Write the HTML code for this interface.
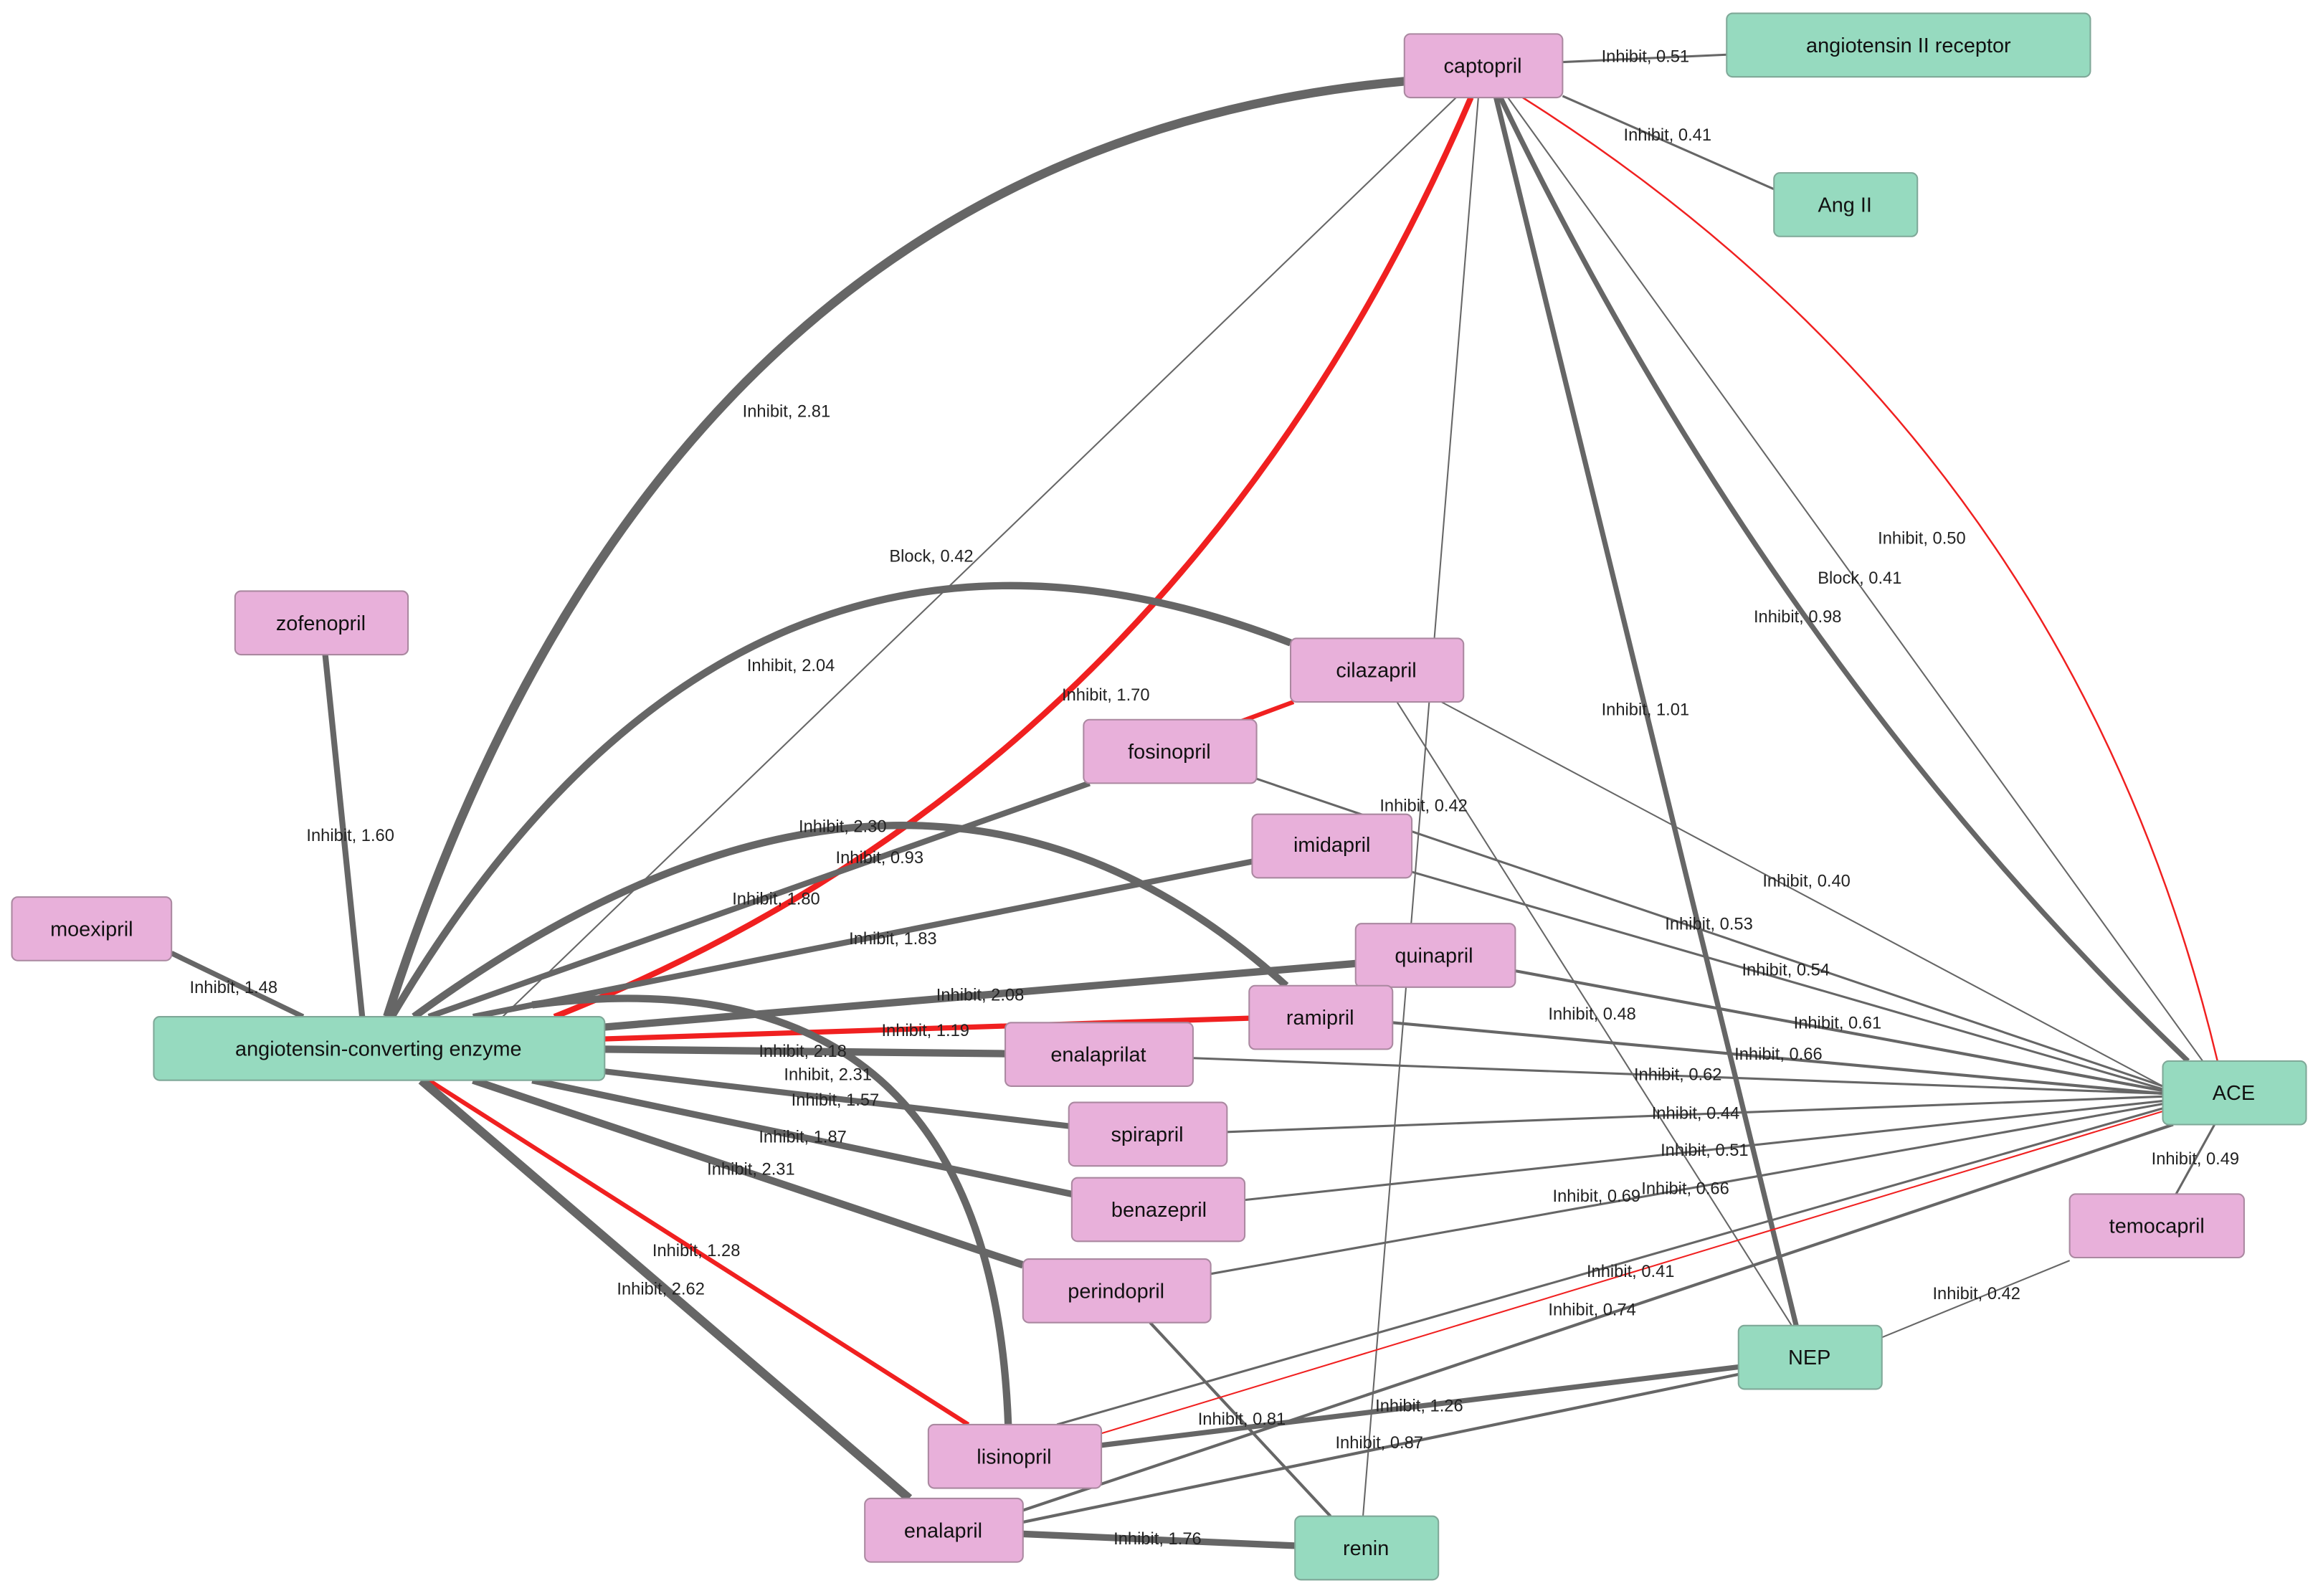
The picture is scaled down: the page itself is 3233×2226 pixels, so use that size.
<!DOCTYPE html>
<html><head><meta charset="utf-8"><style>
html,body{margin:0;padding:0;background:#fff}
svg{display:block}
text{font-family:"Liberation Sans",sans-serif}
.l{font-size:11.5px;fill:#222;text-anchor:middle;dominant-baseline:middle}
.n{font-size:14px;fill:#111;text-anchor:middle;dominant-baseline:central}
.p{fill:#e8b0da;stroke:#aa88a0;stroke-width:1}
.g{fill:#96dabf;stroke:#7fa898;stroke-width:1}
.e{fill:none;stroke:#666}
.r{fill:none;stroke:#f02020}
</style></head><body>
<svg width="3233" height="2226" viewBox="0 0 1568 1080" preserveAspectRatio="none" xmlns="http://www.w3.org/2000/svg">
<rect width="1568" height="1080" fill="#fff"/>
<!-- edges -->
<path class="e" stroke-width="6" d="M950 55 Q450 100 262 688"/>
<path class="e" stroke-width="1.5" d="M1057 42 L1168 37"/>
<path class="e" stroke-width="1.5" d="M1057 65 L1200 128"/>
<path class="r" stroke-width="1.2" d="M1030 66 Q1400 300 1500 718"/>
<path class="e" stroke-width="1" d="M1020 66 L1490 718"/>
<path class="e" stroke-width="3.5" d="M1015 66 Q1200 450 1480 718"/>
<path class="e" stroke-width="3.5" d="M1012 66 L1215 897"/>
<path class="e" stroke-width="1" d="M1000 66 L922 1026"/>
<path class="e" stroke-width="1" d="M985 66 L340 688"/>
<path class="r" stroke-width="4" d="M995 66 Q800 520 375 688"/>
<path class="r" stroke-width="3" d="M875 475 L840 488"/>
<path class="e" stroke-width="5" d="M873 435 Q500 290 265 688"/>
<path class="e" stroke-width="1" d="M975 475 L1463 735"/>
<path class="e" stroke-width="1" d="M945 475 L1212 897"/>
<path class="e" stroke-width="4" d="M737 530 L290 688"/>
<path class="e" stroke-width="1.5" d="M850 527 L1463 735"/>
<path class="e" stroke-width="4" d="M847 583 L320 688"/>
<path class="e" stroke-width="1.5" d="M955 590 L1463 737"/>
<path class="e" stroke-width="5" d="M870 667 Q620 440 280 688"/>
<path class="e" stroke-width="5" d="M917 652 L409 695"/>
<path class="e" stroke-width="2" d="M1025 657 L1463 738"/>
<path class="e" stroke-width="2" d="M942 692 L1463 740"/>
<path class="r" stroke-width="3.5" d="M409 703 L845 689"/>
<path class="e" stroke-width="5" d="M409 710 L680 713"/>
<path class="e" stroke-width="1.5" d="M807 716 L1463 740"/>
<path class="e" stroke-width="5" d="M360 680 Q670 640 682 964"/>
<path class="e" stroke-width="4" d="M409 725 L723 762"/>
<path class="e" stroke-width="1.5" d="M830 766 L1463 742"/>
<path class="e" stroke-width="4.5" d="M360 731 L725 808"/>
<path class="e" stroke-width="1.5" d="M842 812 L1463 745"/>
<path class="e" stroke-width="5" d="M320 731 L692 856"/>
<path class="e" stroke-width="1.5" d="M819 862 L1463 747"/>
<path class="e" stroke-width="2" d="M778 895 L900 1026"/>
<path class="r" stroke-width="3" d="M290 731 L655 964"/>
<path class="e" stroke-width="6" d="M285 731 L615 1014"/>
<path class="r" stroke-width="1" d="M745 970 L1463 752"/>
<path class="e" stroke-width="1.5" d="M715 964 L1463 750"/>
<path class="e" stroke-width="2" d="M692 1022 L1470 761"/>
<path class="e" stroke-width="3.5" d="M745 978 L1176 925"/>
<path class="e" stroke-width="2" d="M692 1030 L1176 930"/>
<path class="e" stroke-width="4.5" d="M692 1038 L876 1046"/>
<path class="e" stroke-width="1.5" d="M1498 761 L1472 808"/>
<path class="e" stroke-width="1" d="M1400 853 L1273 905"/>
<path class="e" stroke-width="4" d="M220 443 L245 688"/>
<path class="e" stroke-width="3.5" d="M116 645 L205 688"/>
<!-- labels -->
<g class="l">
<text x="532" y="279">Inhibit, 2.81</text>
<text x="1113" y="39">Inhibit, 0.51</text>
<text x="1128" y="92">Inhibit, 0.41</text>
<text x="1300" y="365">Inhibit, 0.50</text>
<text x="1258" y="392">Block, 0.41</text>
<text x="1216" y="418">Inhibit, 0.98</text>
<text x="1113" y="481">Inhibit, 1.01</text>
<text x="630" y="377">Block, 0.42</text>
<text x="535" y="451">Inhibit, 2.04</text>
<text x="748" y="471">Inhibit, 1.70</text>
<text x="963" y="546">Inhibit, 0.42</text>
<text x="1222" y="597">Inhibit, 0.40</text>
<text x="570" y="560">Inhibit, 2.30</text>
<text x="595" y="581">Inhibit, 0.93</text>
<text x="525" y="609">Inhibit, 1.80</text>
<text x="604" y="636">Inhibit, 1.83</text>
<text x="1156" y="626">Inhibit, 0.53</text>
<text x="1208" y="657">Inhibit, 0.54</text>
<text x="663" y="674">Inhibit, 2.08</text>
<text x="1077" y="687">Inhibit, 0.48</text>
<text x="1243" y="693">Inhibit, 0.61</text>
<text x="626" y="698">Inhibit, 1.19</text>
<text x="543" y="712">Inhibit, 2.18</text>
<text x="1203" y="714">Inhibit, 0.66</text>
<text x="1135" y="728">Inhibit, 0.62</text>
<text x="560" y="728">Inhibit, 2.31</text>
<text x="565" y="745">Inhibit, 1.57</text>
<text x="1147" y="754">Inhibit, 0.44</text>
<text x="543" y="770">Inhibit, 1.87</text>
<text x="1153" y="779">Inhibit, 0.51</text>
<text x="1485" y="785">Inhibit, 0.49</text>
<text x="508" y="792">Inhibit, 2.31</text>
<text x="1080" y="810">Inhibit, 0.69</text>
<text x="1140" y="805">Inhibit, 0.66</text>
<text x="471" y="847">Inhibit, 1.28</text>
<text x="1103" y="861">Inhibit, 0.41</text>
<text x="447" y="873">Inhibit, 2.62</text>
<text x="1337" y="876">Inhibit, 0.42</text>
<text x="1077" y="887">Inhibit, 0.74</text>
<text x="237" y="566">Inhibit, 1.60</text>
<text x="158" y="669">Inhibit, 1.48</text>
<text x="960" y="952">Inhibit, 1.26</text>
<text x="840" y="961">Inhibit, 0.81</text>
<text x="933" y="977">Inhibit, 0.87</text>
<text x="783" y="1042">Inhibit, 1.76</text>
</g>
<!-- nodes -->
<rect class="p" x="950" y="23" width="107" height="43" rx="4"/><text class="n" x="1003" y="45">captopril</text>
<rect class="g" x="1168" y="9" width="246" height="43" rx="4"/><text class="n" x="1291" y="31">angiotensin II receptor</text>
<rect class="g" x="1200" y="117" width="97" height="43" rx="4"/><text class="n" x="1248" y="139">Ang II</text>
<rect class="p" x="159" y="400" width="117" height="43" rx="4"/><text class="n" x="217" y="422">zofenopril</text>
<rect class="p" x="873" y="432" width="117" height="43" rx="4"/><text class="n" x="931" y="454">cilazapril</text>
<rect class="p" x="733" y="487" width="117" height="43" rx="4"/><text class="n" x="791" y="509">fosinopril</text>
<rect class="p" x="847" y="551" width="108" height="43" rx="4"/><text class="n" x="901" y="572">imidapril</text>
<rect class="p" x="8" y="607" width="108" height="43" rx="4"/><text class="n" x="62" y="629">moexipril</text>
<rect class="p" x="917" y="625" width="108" height="43" rx="4"/><text class="n" x="970" y="647">quinapril</text>
<rect class="p" x="845" y="667" width="97" height="43" rx="4"/><text class="n" x="893" y="689">ramipril</text>
<rect class="g" x="104" y="688" width="305" height="43" rx="4"/><text class="n" x="256" y="710">angiotensin-converting enzyme</text>
<rect class="p" x="680" y="692" width="127" height="43" rx="4"/><text class="n" x="743" y="714">enalaprilat</text>
<rect class="g" x="1463" y="718" width="97" height="43" rx="4"/><text class="n" x="1511" y="740">ACE</text>
<rect class="p" x="723" y="746" width="107" height="43" rx="4"/><text class="n" x="776" y="768">spirapril</text>
<rect class="p" x="725" y="797" width="117" height="43" rx="4"/><text class="n" x="784" y="819">benazepril</text>
<rect class="p" x="1400" y="808" width="118" height="43" rx="4"/><text class="n" x="1459" y="830">temocapril</text>
<rect class="p" x="692" y="852" width="127" height="43" rx="4"/><text class="n" x="755" y="874">perindopril</text>
<rect class="g" x="1176" y="897" width="97" height="43" rx="4"/><text class="n" x="1224" y="919">NEP</text>
<rect class="p" x="628" y="964" width="117" height="43" rx="4"/><text class="n" x="686" y="986">lisinopril</text>
<rect class="p" x="585" y="1014" width="107" height="43" rx="4"/><text class="n" x="638" y="1036">enalapril</text>
<rect class="g" x="876" y="1026" width="97" height="43" rx="4"/><text class="n" x="924" y="1048">renin</text>
</svg>
</body></html>
